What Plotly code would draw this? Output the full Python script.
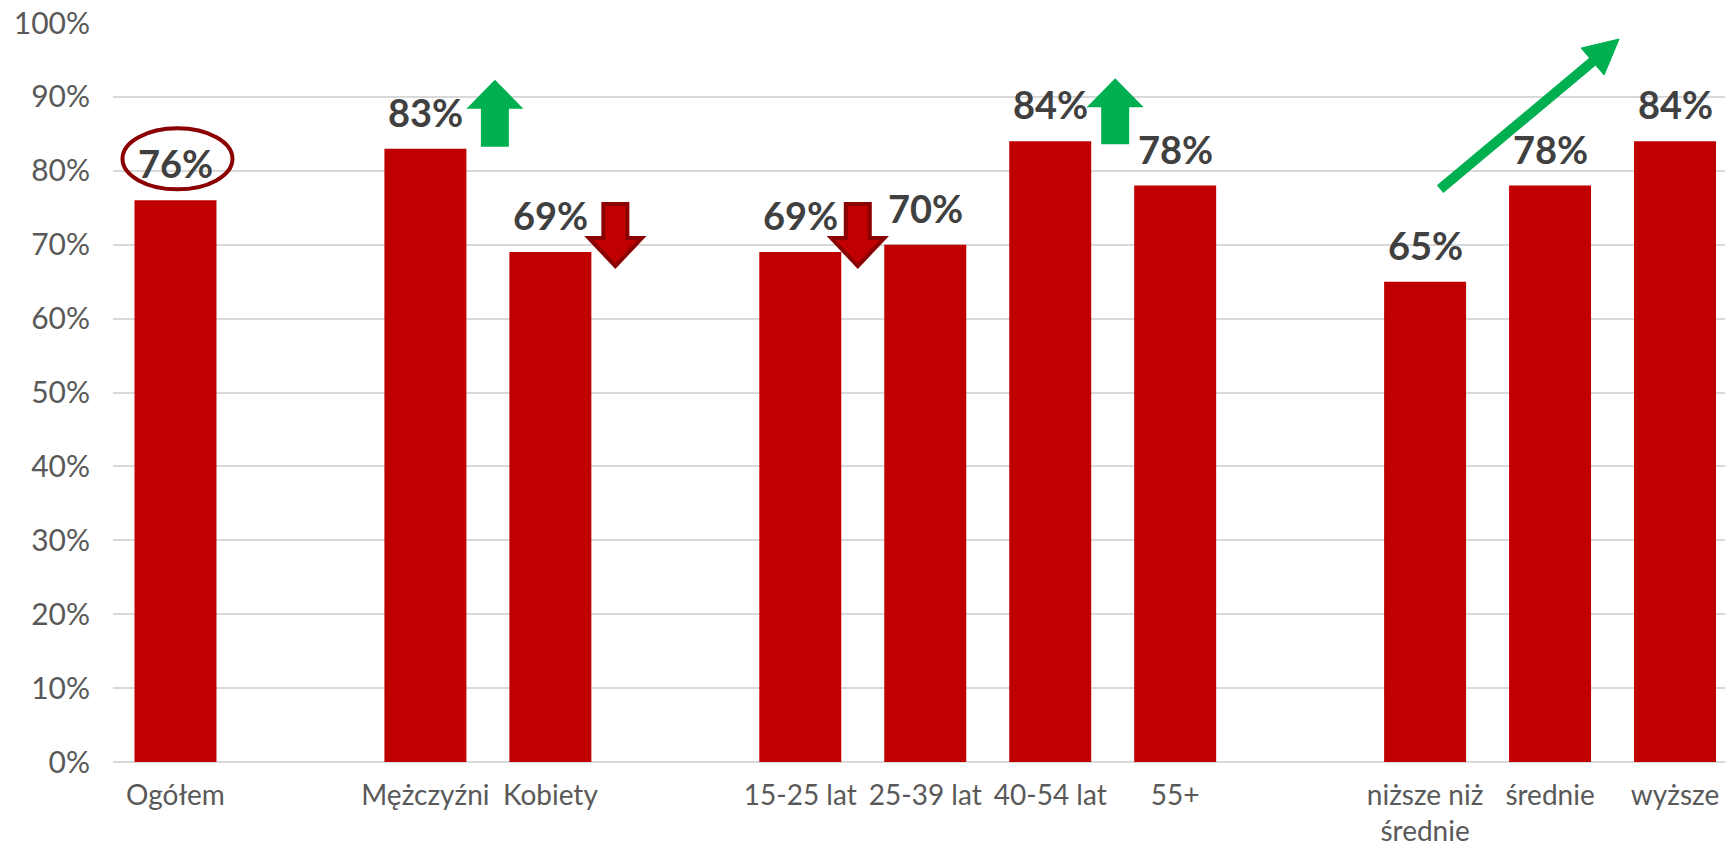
import plotly.graph_objects as go

# ---- data ----
categories = ["Ogółem", "Mężczyźni", "Kobiety", "15-25 lat", "25-39 lat",
              "40-54 lat", "55+", "niższe niż średnie", "średnie", "wyższe"]
values = [0.76, 0.83, 0.69, 0.69, 0.70, 0.84, 0.78, 0.65, 0.78, 0.84]
tick_labels = ["Ogółem", "Mężczyźni", "Kobiety", "15-25 lat", "25-39 lat",
               "40-54 lat", "55+", "niższe niż<br>średnie", "średnie", "wyższe"]
groups = [0, 1, 1, 2, 2, 2, 2, 3, 3, 3]
y_ticks = [0, 0.1, 0.2, 0.3, 0.4, 0.5, 0.6, 0.7, 0.8, 0.9, 1.0]

# ---- styles ----
BAR = "#C00000"
GREEN = "#00B050"
DARKRED = "#8B0000"
GRID = "#D9D9D9"
AXIS_TXT = "#595959"
LABEL_TXT = "#404040"
FONT = "Lato"

# category order with empty spacer slots between groups
order = []
prev = None
gap_n = 0
for c, g in zip(categories, groups):
    if prev is not None and g != prev:
        gap_n += 1
        order.append("gap%d" % gap_n)
    order.append(c)
    prev = g
idx = {c: order.index(c) for c in categories}

fig = go.Figure()
fig.add_trace(go.Bar(
    x=categories, y=values,
    marker=dict(color=BAR, line=dict(width=0)),
    hoverinfo="skip",
))

# value labels
for c, v in zip(categories, values):
    fig.add_annotation(
        x=c, y=v, text="%d%%" % round(v * 100), showarrow=False,
        yanchor="bottom", yshift=12,
        font=dict(family=FONT, size=38, color=LABEL_TXT, weight="bold"),
    )

def anchored(cat, **kw):
    d = dict(xref="x", yref="y", xsizemode="pixel", ysizemode="pixel",
             xanchor=idx[cat], yanchor=values[categories.index(cat)])
    d.update(kw)
    return d

# ellipse around the overall value
fig.add_shape(**anchored("Ogółem", type="circle", x0=-53, x1=57, y0=11, y1=72,
                         line=dict(color=DARKRED, width=4)))

def up_arrow(cx, base, sw, hw, hb, tip):
    return ("M %g,%g L %g,%g L %g,%g L %g,%g L %g,%g L %g,%g L %g,%g Z" % (
        cx - sw / 2, base, cx + sw / 2, base, cx + sw / 2, hb, cx + hw / 2, hb,
        cx, tip, cx - hw / 2, hb, cx - sw / 2, hb))

def down_arrow(cx, top, sw, hw, hb, tip):
    return up_arrow(cx, top, sw, hw, hb, tip)

# green up arrows
fig.add_shape(**anchored("Mężczyźni", type="path",
                         path=up_arrow(69.5, 2, 28, 57, 40, 69),
                         fillcolor=GREEN, line=dict(width=0)))
fig.add_shape(**anchored("40-54 lat", type="path",
                         path=up_arrow(65, -3, 28, 57, 34, 63),
                         fillcolor=GREEN, line=dict(width=0)))
# red down arrows
fig.add_shape(**anchored("Kobiety", type="path",
                         path=down_arrow(65, 48, 24, 53, 14, -14),
                         fillcolor=BAR, line=dict(color=DARKRED, width=4)))
fig.add_shape(**anchored("15-25 lat", type="path",
                         path=down_arrow(57.5, 48, 24, 53, 14, -14),
                         fillcolor=BAR, line=dict(color=DARKRED, width=4)))
# diagonal trend arrow over education group
fig.add_shape(**anchored("niższe niż średnie", type="line",
                         x0=15, y0=92.6, x1=168, y1=220.5,
                         line=dict(color=GREEN, width=10)))
fig.add_shape(**anchored("niższe niż średnie", type="path",
                         path="M 194,242.6 L 156,233.6 L 179,206.6 Z",
                         fillcolor=GREEN, line=dict(color=GREEN, width=1)))

fig.update_layout(
    width=1725, height=848,
    margin=dict(l=113, r=0, t=23, b=86),
    paper_bgcolor="white", plot_bgcolor="white",
    showlegend=False, bargap=0.344,
    font=dict(family=FONT, color=AXIS_TXT),
    xaxis=dict(
        type="category", categoryorder="array", categoryarray=order,
        range=[-0.5, 12.4], tickvals=categories, ticktext=tick_labels,
        showgrid=False, showline=False, zeroline=False, automargin=False,
        ticks="outside", ticklen=8, tickcolor="rgba(0,0,0,0)",
        tickfont=dict(family=FONT, size=28, color=AXIS_TXT),
        fixedrange=True,
    ),
    yaxis=dict(
        range=[0, 1.0], tickvals=y_ticks, tickformat=".0%",
        showgrid=True, gridcolor=GRID, gridwidth=2,
        zeroline=True, zerolinecolor=GRID, zerolinewidth=2,
        showline=False, automargin=False,
        ticks="outside", ticklen=16, tickcolor="rgba(0,0,0,0)",
        tickfont=dict(family=FONT, size=30, color=AXIS_TXT),
        fixedrange=True,
    ),
)

fig.write_html(
    "out.html",
    config={"displayModeBar": False},
    post_script="document.body.style.margin='0';document.body.style.overflow='hidden';",
)
